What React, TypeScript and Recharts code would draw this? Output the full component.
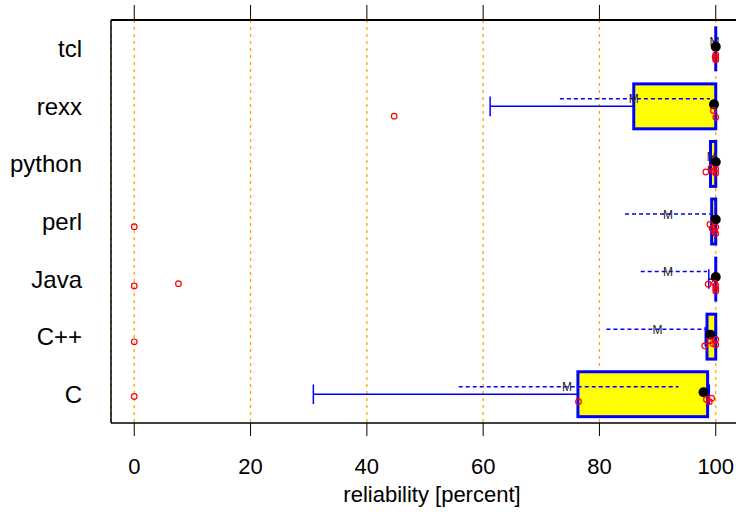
import {
  ComposedChart,
  Scatter,
  XAxis,
  YAxis,
  CartesianGrid,
  ReferenceArea,
  ReferenceLine,
  Label,
} from "recharts";

// languages, bottom row first
const LANGS = ["C", "C++", "Java", "perl", "python", "rexx", "tcl"];
const X_TICKS = [0, 20, 40, 60, 80, 100];

const Q1 = [76.3, 98.5, 100, 99.3, 99.1, 85.9, 100];
const Q3 = [98.6, 100, 100, 100, 100, 100, 100];
const WHISK_LO = [30.8, 98.2, 98.8, 99.3, 99.1, 61.2, 100];
const WHISK_HI = [98.9, 100, 100, 100, 100, 100, 100];
const MEDIAN = [97.9, 99.1, 100, 100, 100, 99.7, 100];
const MEAN = [74.4, 90.0, 91.8, 91.8, 99.3, 85.9, 99.8];
const MEAN_LO = [55.8, 81.2, 87.1, 84.4, 98.9, 73.2, 99.5];
const MEAN_HI = [93.6, 98.5, 98.5, 99.0, 99.8, 99.0, 100];

// raw observations and their vertical jitter (row units, below the row)
const POINTS = [
  [0, 76.4, 98.4, 98.9, 99.3],
  [0, 98.1, 99.0, 99.5, 100, 100],
  [0, 7.6, 98.7, 99.8, 100, 100, 100],
  [0, 99.0, 99.4, 99.8, 100, 100],
  [98.3, 99.2, 99.6, 100, 100],
  [44.7, 99.6, 100],
  [100, 99.9, 100, 100],
];
const JITTER = [
  [0.04, 0.13, 0.09, 0.13, 0.07],
  [0.09, 0.16, 0.07, 0.12, 0.05, 0.14],
  [0.12, 0.08, 0.09, 0.07, 0.12, 0.17, 0.21],
  [0.09, 0.05, 0.12, 0.17, 0.1, 0.21],
  [0.14, 0.07, 0.12, 0.09, 0.16],
  [0.17, 0.07, 0.19],
  [0.1, 0.14, 0.17, 0.19],
];

const BLUE = "#0000FF";
const BOX_HALF = 0.39;
const CAP_HALF = 0.17;
const MEAN_LIFT = 0.13;

const medianData = LANGS.map((_, i) => ({ x: MEDIAN[i], y: i + 1 + 0.035 }));
const meanData = LANGS.map((_, i) => ({ x: MEAN[i], y: i + 1 + MEAN_LIFT }));
const pointData = POINTS.flatMap((row, i) =>
  row.map((v, j) => ({ x: v, y: i + 1 - JITTER[i][j] }))
);

const BoxShape = (p: any) => {
  if (p.width < 1) {
    return <line x1={p.x} x2={p.x} y1={p.y} y2={p.y + p.height} stroke={BLUE} strokeWidth={3} />;
  }
  return (
    <rect x={p.x} y={p.y} width={p.width} height={p.height} fill="#FFFF00" stroke={BLUE} strokeWidth={3} />
  );
};

export default function App() {
  return (
    <div
      style={{
        position: "absolute",
        left: 0,
        top: 0,
        width: 736,
        height: 517,
        overflow: "hidden",
        background: "#fff",
        fontFamily: "'Liberation Sans', Arial, sans-serif",
      }}
    >
      <ComposedChart width={760} height={517} margin={{ top: 0, right: 21, bottom: 0, left: 0 }}>
        <CartesianGrid horizontal={false} stroke="#FFA500" strokeWidth={1.3} strokeDasharray="3 4" />
        <XAxis
          type="number"
          dataKey="x"
          domain={[-4, 104]}
          ticks={X_TICKS}
          allowDataOverflow
          height={94}
          tickSize={13}
          tickMargin={22}
          axisLine={{ stroke: "#000", strokeWidth: 1.5 }}
          tickLine={{ stroke: "#000" }}
          tick={{ fill: "#000", fontSize: 22 }}
        >
          <Label value="reliability [percent]" position="insideBottom" offset={15} dx={7} fill="#000" fontSize={22} />
        </XAxis>
        <XAxis
          xAxisId="top"
          orientation="top"
          type="number"
          dataKey="x"
          domain={[-4, 104]}
          ticks={X_TICKS}
          allowDataOverflow
          height={20}
          tickSize={15}
          tickFormatter={() => ""}
          axisLine={{ stroke: "#000", strokeWidth: 2 }}
          tickLine={{ stroke: "#000" }}
        />
        <YAxis
          type="number"
          dataKey="y"
          domain={[0.5, 7.5]}
          ticks={[1, 2, 3, 4, 5, 6, 7]}
          tickFormatter={(v: number) => LANGS[v - 1]}
          allowDataOverflow
          width={111}
          tickSize={0}
          tickMargin={29}
          tickLine={false}
          axisLine={{ stroke: "#000", strokeWidth: 1.5 }}
          tick={{ fill: "#000", fontSize: 24 }}
        />

        {LANGS.map((l, i) => (
          <ReferenceArea
            key={"box" + l}
            x1={Q1[i]}
            x2={Q3[i]}
            y1={i + 1 - BOX_HALF}
            y2={i + 1 + BOX_HALF}
            shape={BoxShape}
          />
        ))}

        {LANGS.map((l, i) =>
          WHISK_LO[i] < Q1[i] ? (
            <ReferenceLine
              key={"wl" + l}
              segment={[{ x: WHISK_LO[i], y: i + 1 }, { x: Q1[i], y: i + 1 }]}
              stroke={BLUE}
              strokeWidth={1.5}
            />
          ) : null
        )}
        {LANGS.map((l, i) =>
          WHISK_LO[i] < Q1[i] ? (
            <ReferenceLine
              key={"cl" + l}
              segment={[{ x: WHISK_LO[i], y: i + 1 - CAP_HALF }, { x: WHISK_LO[i], y: i + 1 + CAP_HALF }]}
              stroke={BLUE}
              strokeWidth={1.5}
            />
          ) : null
        )}
        {LANGS.map((l, i) =>
          WHISK_HI[i] > Q3[i] ? (
            <ReferenceLine
              key={"ch" + l}
              segment={[{ x: WHISK_HI[i], y: i + 1 - CAP_HALF }, { x: WHISK_HI[i], y: i + 1 + CAP_HALF }]}
              stroke={BLUE}
              strokeWidth={1.5}
            />
          ) : null
        )}

        {LANGS.map((l, i) => (
          <ReferenceLine
            key={"mean" + l}
            segment={[{ x: MEAN_LO[i], y: i + 1 + MEAN_LIFT }, { x: MEAN_HI[i], y: i + 1 + MEAN_LIFT }]}
            stroke={BLUE}
            strokeWidth={1.5}
            strokeDasharray="4 3"
          />
        ))}

        <Scatter
          data={meanData}
          isAnimationActive={false}
          shape={(p: any) => (
            <text x={p.cx} y={p.cy + 4.5} textAnchor="middle" fontSize={12} fill="#222">
              M
            </text>
          )}
        />
        <Scatter
          data={medianData}
          isAnimationActive={false}
          shape={(p: any) => <circle cx={p.cx} cy={p.cy} r={5} fill="#000" />}
        />
        <Scatter
          data={pointData}
          isAnimationActive={false}
          shape={(p: any) => <circle cx={p.cx} cy={p.cy} r={2.8} fill="none" stroke="#FF0000" strokeWidth={1.2} />}
        />
      </ComposedChart>
    </div>
  );
}
